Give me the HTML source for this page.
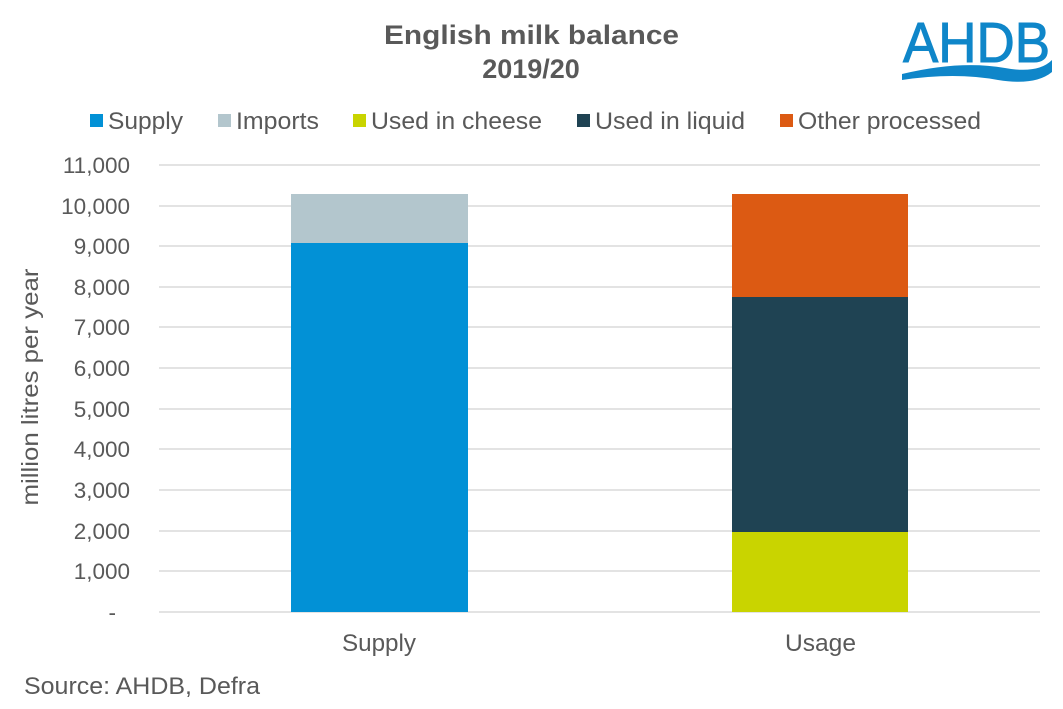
<!DOCTYPE html>
<html><head><meta charset="utf-8"><style>
body{margin:0;background:#fff;}
svg{display:block;font-family:"Liberation Sans",Arial,sans-serif;}
</style></head><body>
<svg width="1063" height="709" viewBox="0 0 1063 709" xmlns="http://www.w3.org/2000/svg">
<rect width="1063" height="709" fill="#fff"/>
<text x="384" y="44" textLength="295" lengthAdjust="spacingAndGlyphs" font-size="27" font-weight="bold" fill="#595959">English milk balance</text>
<text x="531" y="78" text-anchor="middle" font-size="27" font-weight="bold" fill="#595959">2019/20</text>
<!-- logo -->
<text x="903" y="62" textLength="147" lengthAdjust="spacingAndGlyphs" font-size="57" fill="#0f86c9" stroke="#0f86c9" stroke-width="1">AHDB</text>
<path d="M902 74 Q960 60 1005 68 Q1038 74 1052 60 L1052 72 Q1035 86 998 80 Q955 72 902 80 Z" fill="#0f86c9"/>
<!-- legend -->
<g font-size="24" fill="#595959">
<rect x="90" y="114" width="13" height="13" fill="#0291d6"/><text x="108" y="129" textLength="75" lengthAdjust="spacingAndGlyphs">Supply</text>
<rect x="218" y="114" width="13" height="13" fill="#b3c6cd"/><text x="236" y="129" textLength="83" lengthAdjust="spacingAndGlyphs">Imports</text>
<rect x="353" y="114" width="13" height="13" fill="#c9d400"/><text x="371" y="129" textLength="171" lengthAdjust="spacingAndGlyphs">Used in cheese</text>
<rect x="577" y="114" width="13" height="13" fill="#1f4353"/><text x="595" y="129" textLength="150" lengthAdjust="spacingAndGlyphs">Used in liquid</text>
<rect x="780" y="114" width="13" height="13" fill="#dc5a13"/><text x="798" y="129" textLength="183" lengthAdjust="spacingAndGlyphs">Other processed</text>
</g>
<!-- grid -->
<g stroke="#e3e3e3" stroke-width="2">
<line x1="159" x2="1040" y1="165" y2="165"/><line x1="159" x2="1040" y1="206" y2="206"/>
<line x1="159" x2="1040" y1="246" y2="246"/><line x1="159" x2="1040" y1="287" y2="287"/>
<line x1="159" x2="1040" y1="327" y2="327"/><line x1="159" x2="1040" y1="368" y2="368"/>
<line x1="159" x2="1040" y1="409" y2="409"/><line x1="159" x2="1040" y1="449" y2="449"/>
<line x1="159" x2="1040" y1="490" y2="490"/><line x1="159" x2="1040" y1="531" y2="531"/>
<line x1="159" x2="1040" y1="571" y2="571"/><line x1="159" x2="1040" y1="612" y2="612"/>
</g>
<g font-size="22.5" fill="#595959" text-anchor="end">
<text x="130" y="173">11,000</text><text x="130" y="214">10,000</text><text x="130" y="254">9,000</text>
<text x="130" y="295">8,000</text><text x="130" y="335">7,000</text><text x="130" y="376">6,000</text>
<text x="130" y="417">5,000</text><text x="130" y="457">4,000</text><text x="130" y="498">3,000</text>
<text x="130" y="539">2,000</text><text x="130" y="579">1,000</text><text x="116" y="620">-</text>
</g>
<text transform="translate(38,387) rotate(-90)" text-anchor="middle" font-size="23" fill="#595959" textLength="237" lengthAdjust="spacingAndGlyphs">million litres per year</text>
<!-- bars -->
<rect x="291" y="194" width="177" height="49" fill="#b3c6cd"/>
<rect x="291" y="243" width="177" height="369" fill="#0291d6"/>
<rect x="732" y="194" width="176" height="103" fill="#dc5a13"/>
<rect x="732" y="297" width="176" height="235" fill="#1f4353"/>
<rect x="732" y="532" width="176" height="80" fill="#c9d400"/>
<g font-size="24" fill="#595959">
<text x="342" y="651" textLength="74" lengthAdjust="spacingAndGlyphs">Supply</text><text x="785" y="651" textLength="71" lengthAdjust="spacingAndGlyphs">Usage</text>
</g>
<text x="24" y="694" font-size="24" fill="#595959" textLength="236" lengthAdjust="spacingAndGlyphs">Source: AHDB, Defra</text>
</svg>
</body></html>
